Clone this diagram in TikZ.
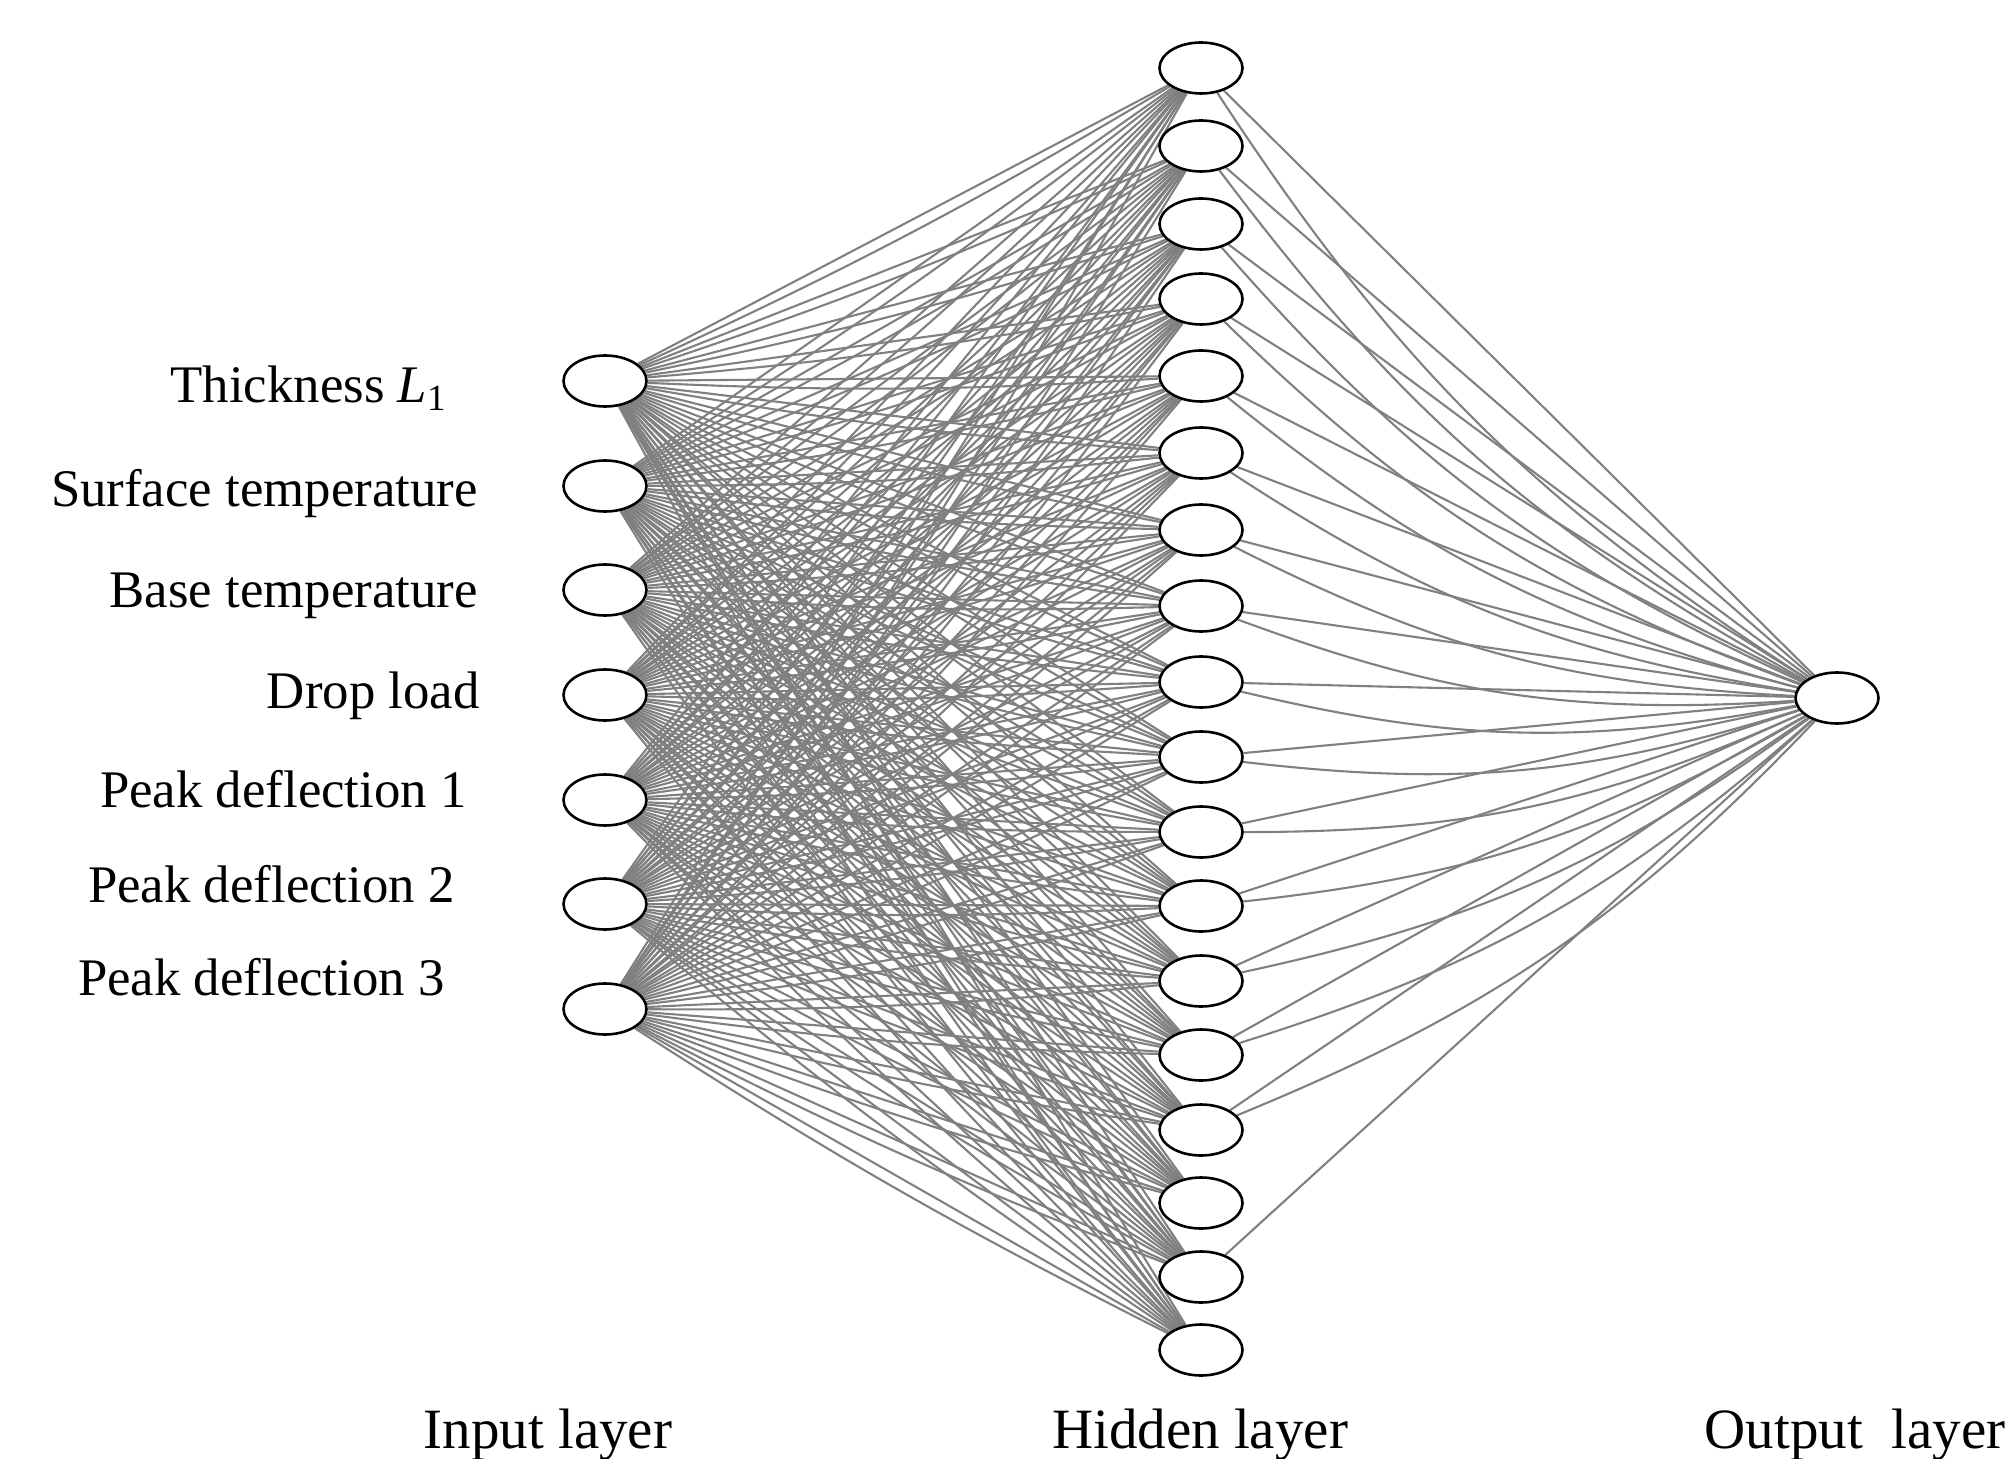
\documentclass[tikz,border=0pt]{standalone}
\usepackage{fontspec}
\setmainfont{Liberation Serif}
\usetikzlibrary{shapes.geometric}
\pgfdeclarelayer{bg}
\pgfsetlayers{bg,main}
\begin{document}
\begin{tikzpicture}[x=0.5pt,y=-0.5pt,
  neuron/.style={ellipse,draw=black,line width=1.3pt,fill=white,minimum width=41.5pt,minimum height=25.5pt,inner sep=0pt},
  link/.style={draw=black!50,line width=1.05pt},
  inlabel/.style={anchor=base east,font=\fontsize{26.4}{30}\selectfont,inner sep=0pt},
  laylabel/.style={anchor=base,font=\fontsize{28.5}{32}\selectfont,inner sep=0pt}]
\useasboundingbox (0,0) rectangle (2006,1459);
% input nodes
\foreach \y [count=\i] in {381,486,590,695,800,904,1009}
  \node[neuron] (in\i) at (605,\y) {};
% hidden nodes
\foreach \y [count=\j] in {68,146,224,299,376,453,530,606,682,757,832,906,981,1055,1130,1203,1277,1350}
  \node[neuron] (h\j) at (1201,\y) {};
% output node
\node[neuron] (out) at (1837,698) {};
% connectors
\begin{pgfonlayer}{bg}
\foreach \i in {1,...,7}
  \foreach \j in {1,...,18}
    {\draw[link] (in\i) -- (h\j);
     \draw[link] (in\i) to[bend right=3] (h\j);}
\foreach \j in {1,...,15,17}
  \draw[link] (h\j) -- (out);
\foreach \j in {1,...,15}
  \draw[link] (h\j) to[bend right=12] (out);
\end{pgfonlayer}
% labels
\node[inlabel] (l1) at (447,403) {Thickness \textit{L}\textsubscript{1}};
\node[inlabel] (l2) at (478,507) {Surface temperature};
\node[inlabel] (l3) at (478,608) {Base temperature};
\node[inlabel] (l4) at (480,708) {Drop load};
\node[inlabel] (l5) at (467,807) {Peak deflection 1};
\node[inlabel] (l6) at (455,902) {Peak deflection 2};
\node[inlabel] (l7) at (445,995) {Peak deflection 3};
\node[laylabel] (li) at (548,1448) {Input layer};
\node[laylabel] (lh) at (1200,1448) {Hidden layer};
\node[laylabel] (lo) at (1855,1448) {Output\ \ layer};
\end{tikzpicture}
\end{document}
